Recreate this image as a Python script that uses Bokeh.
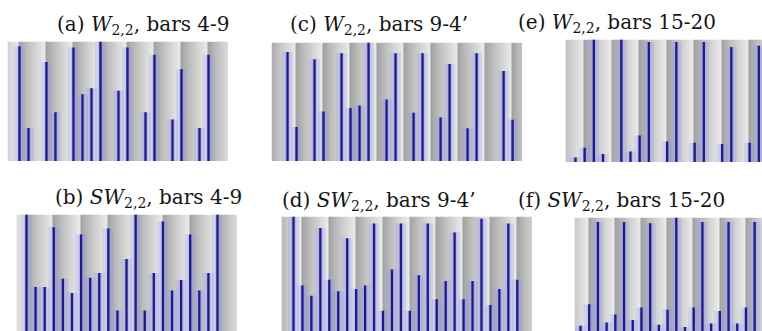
import numpy as np
from bokeh.plotting import figure
from bokeh.models import Range1d, Div, Spacer, ColumnDataSource
from bokeh.layouts import row, column
from bokeh.embed import file_html
from bokeh.resources import INLINE

# Onset positions on a triplet grid (3 grid steps per shaded beat stripe)
# and metric / spectral weights in percent of each panel's maximum.
a_pos = [0, 1, 3, 4, 6, 7, 8, 9, 11, 12, 14, 15, 17, 18, 20, 21]
a_w = [96, 28, 83, 41, 95, 56, 61, 100, 59, 95, 41, 89, 35, 77, 28, 89]

b_pos = list(range(22))
b_w = [100, 38, 38, 89, 45, 33, 83, 46, 50, 88, 18, 62,
       100, 18, 50, 94, 35, 44, 83, 35, 50, 100]

c_pos = [2, 3, 5, 6, 8, 9, 10, 11, 13, 14, 16, 17, 19, 20, 22, 23, 26, 27]
c_w = [92, 29, 86, 42, 91, 45, 47, 100, 52, 91, 41, 91, 37, 82, 28, 91, 76, 35]

d_pos = list(range(26))
d_w = [100, 40, 31, 90, 45, 35, 81, 37, 40, 94, 18, 54, 94,
       18, 49, 94, 28, 44, 86, 28, 44, 98, 23, 37, 94, 45]

e_pos = [0, 1, 2, 3, 5, 6, 7, 8, 10, 11, 13, 14, 16, 17, 19, 20]
e_w = [4, 12, 100, 7, 100, 9, 22, 98, 17, 98, 16, 98, 15, 94, 16, 95]

f_pos = list(range(21))
f_w = [5, 24, 96, 8, 15, 96, 10, 21, 95, 6, 19, 100,
       4, 21, 96, 7, 18, 96, 7, 21, 96]

# grid position where each panel's first beat stripe begins
a_beat, b_beat, c_beat, d_beat, e_beat, f_beat = 0, 0, 0, 1, 1, 1

titles = {
    "a": "(a) <i>W</i>{sub}, bars 4-9",
    "b": "(b) <i>SW</i>{sub}, bars 4-9",
    "c": "(c) <i>W</i>{sub}, bars 9-4\u2019",
    "d": "(d) <i>SW</i>{sub}, bars 9-4\u2019",
    "e": "(e) <i>W</i>{sub}, bars 15-20",
    "f": "(f) <i>SW</i>{sub}, bars 15-20",
}
SUB = '<span style="font-size:14px;line-height:0;vertical-align:-4px">2,2</span>'


def stripe_image(x0, x1, beat, n):
    """One-row RGBA strip: each beat shades from dark grey to near white."""
    xs = x0 + (np.arange(n) + 0.5) / n * (x1 - x0)
    t = ((xs - (beat - 0.12)) / 3.0) % 1.0
    g = (158 + (236 - 158) * t ** 0.8).astype(np.uint32)
    return ((255 << 24) | (g << 16) | (g << 8) | g).reshape(1, n)


def panel(pos, w, beat, xr, width, height):
    p = figure(width=width, height=height, x_range=Range1d(*xr),
               y_range=Range1d(0, 100), output_backend="svg",
               toolbar_location=None, min_border=0,
               x_axis_location=None, y_axis_location=None)
    p.grid.visible = False
    p.outline_line_color = None
    p.background_fill_color = "white"
    p.border_fill_color = "white"
    p.image_rgba(image=[stripe_image(xr[0], xr[1], beat, width * 2)],
                 x=xr[0], y=0, dw=xr[1] - xr[0], dh=100)
    src = ColumnDataSource(dict(x=pos, w=w, z=[0] * len(pos)))
    # soft blue glow around each weight line
    p.segment(x0="x", y0="z", x1="x", y1="w", source=src,
              line_width=11, line_color="#8c8cf0", line_alpha=0.22)
    p.segment(x0="x", y0="z", x1="x", y1="w", source=src,
              line_width=5, line_color="#9c9cf4", line_alpha=0.4)
    p.segment(x0="x", y0="z", x1="x", y1="w", source=src,
              line_width=2.3, line_color="#1c1c84", line_cap="butt")
    return p


def title(key, width, height, pad):
    html = titles[key].replace("{sub}", SUB)
    return Div(text=(f'<div style="font-family:\'DejaVu Serif\',serif;'
                     f'font-size:20px;line-height:20px;white-space:nowrap;'
                     f'color:#151515;padding-top:{pad}px">{html}</div>'),
               width=width, height=height, margin=0)


def gap(w=0, h=0):
    return Spacer(width=w, height=h, margin=0)


pa = panel(a_pos, a_w, a_beat, (-1.33, 23.22), 221, 120)
pc = panel(c_pos, c_w, c_beat, (0.22, 28.1), 251, 119)
pe = panel(e_pos, e_w, e_beat, (-1.09, 20.4), 197, 123)
pb = panel(b_pos, b_w, b_beat, (-1.1, 23.2), 221, 117)
pd = panel(d_pos, d_w, d_beat, (-1.34, 26.7), 251, 115)
pf = panel(f_pos, f_w, f_beat, (-0.69, 20.9), 188, 114)

title_row1 = row(gap(57, 39), title("a", 233, 39, 14), title("c", 228, 39, 14),
                 title("e", 244, 39, 12), spacing=0)
panel_row1 = row(gap(7, 123), column(gap(221, 2), pa, spacing=0), gap(43, 123),
                 column(gap(251, 3), pc, spacing=0), gap(43, 123), pe, spacing=0)
title_row2 = row(gap(55, 52), title("b", 227, 52, 25), title("d", 236, 52, 28),
                 title("f", 244, 52, 28), spacing=0)
panel_row2 = row(gap(16, 117), pb, gap(44, 117),
                 column(gap(251, 2), pd, spacing=0), gap(42, 117),
                 column(gap(188, 3), pf, spacing=0), spacing=0)

layout = column(title_row1, panel_row1, title_row2, panel_row2, spacing=0)

with open("out.html", "w") as fh:
    fh.write(file_html(layout, INLINE))
